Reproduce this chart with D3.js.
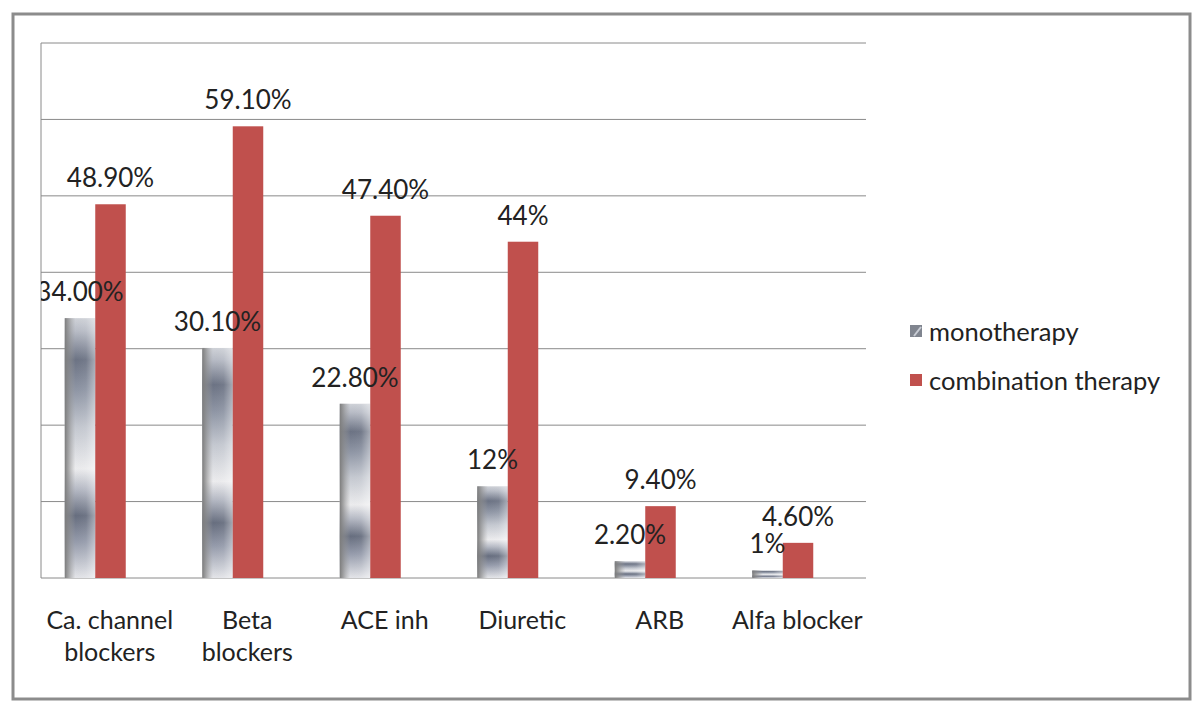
<!DOCTYPE html>
<html>
<head>
<meta charset="utf-8">
<script src="https://cdn.jsdelivr.net/npm/d3@7"></script>
<style>
  body { margin: 0; background: #fff; }
  text { font-family: Lato, "Open Sans", sans-serif; fill: #222; }
</style>
</head>
<body>
<script>
// Width and height
var w = 1200;
var h = 713;

// data
const categories = ["Ca. channel blockers", "Beta blockers", "ACE inh", "Diuretic", "ARB", "Alfa blocker"];
const categoryLines = [["Ca. channel", "blockers"], ["Beta", "blockers"], ["ACE inh"], ["Diuretic"], ["ARB"], ["Alfa blocker"]];
const seriesNames = ["monotherapy", "combination therapy"];
const monotherapy = [34.0, 30.1, 22.8, 12, 2.2, 1];
const combination = [48.9, 59.1, 47.4, 44, 9.4, 4.6];
const monoLabels = ["34.00%", "30.10%", "22.80%", "12%", "2.20%", "1%"];
const comboLabels = ["48.90%", "59.10%", "47.40%", "44%", "9.40%", "4.60%"];
const yTicks = [0, 10, 20, 30, 40, 50, 60, 70];

const plot = { left: 41, right: 866, top: 43, bottom: 578 };

const svg = d3.select("body")
  .append("svg")
    .attr("width", w)
    .attr("height", h);

const defs = svg.append("defs");

// metallic look for monotherapy bars
const vGrad = defs.append("linearGradient")
  .attr("id", "monoV")
  .attr("x1", 0).attr("y1", 0).attr("x2", 0).attr("y2", 1);
[[0, "#cfd2d8"], [0.05, "#b8bcc6"], [0.16, "#6c7384"], [0.28, "#9097a6"], [0.42, "#c4c8d0"], [0.58, "#ececee"],
 [0.66, "#b5b9c4"], [0.76, "#676e7f"], [0.86, "#959bab"], [1, "#e4e5e9"]]
  .forEach(s => vGrad.append("stop").attr("offset", s[0]).attr("stop-color", s[1]));

const hGrad = defs.append("linearGradient")
  .attr("id", "monoH")
  .attr("x1", 0).attr("y1", 0).attr("x2", 1).attr("y2", 0);
[[0, "#7c7c7c", 1], [0.12, "#8a8a8a", 0.7], [0.35, "#a0a0a0", 0], [0.7, "#ffffff", 0.05], [1, "#ffffff", 0.4]]
  .forEach(s => hGrad.append("stop").attr("offset", s[0]).attr("stop-color", s[1]).attr("stop-opacity", s[2]));

defs.append("clipPath").attr("id", "plotClip")
  .append("rect")
    .attr("x", plot.left).attr("y", 0)
    .attr("width", plot.right - plot.left + 40).attr("height", plot.bottom);

// outer frame
svg.append("rect")
  .attr("x", 13).attr("y", 14)
  .attr("width", 1177).attr("height", 685)
  .attr("fill", "none")
  .attr("stroke", "#8c8c8c")
  .attr("stroke-width", 3);

// scales
const xScale = d3.scaleBand()
  .domain(categories)
  .range([plot.left, plot.right]);

const yScale = d3.scaleLinear()
  .domain([0, 70])
  .range([plot.bottom, plot.top]);

const xSub = d3.scaleBand()
  .domain(seriesNames)
  .range([0, 61]);

// gridlines
svg.append("g")
  .selectAll("line")
  .data(yTicks)
  .enter()
  .append("line")
    .attr("x1", plot.left)
    .attr("x2", plot.right)
    .attr("y1", d => yScale(d))
    .attr("y2", d => yScale(d))
    .attr("stroke", "#8a8a8a")
    .attr("stroke-width", 1);

// left axis line
svg.append("line")
  .attr("x1", plot.left).attr("x2", plot.left)
  .attr("y1", plot.top).attr("y2", plot.bottom)
  .attr("stroke", "#8a8a8a");

const groupX = c => xScale(c) + xScale.bandwidth() / 2 - 45;

// monotherapy bars (two layers for the metallic fill)
["url(#monoV)", "url(#monoH)"].forEach(fill => {
  svg.append("g")
    .selectAll("rect")
    .data(categories)
    .enter()
    .append("rect")
      .attr("x", c => groupX(c) + xSub("monotherapy"))
      .attr("y", (c, i) => yScale(monotherapy[i]))
      .attr("width", xSub.bandwidth())
      .attr("height", (c, i) => plot.bottom - yScale(monotherapy[i]))
      .attr("fill", fill);
});

// combination bars
svg.append("g")
  .selectAll("rect")
  .data(categories)
  .enter()
  .append("rect")
    .attr("x", c => groupX(c) + xSub("combination therapy"))
    .attr("y", (c, i) => yScale(combination[i]))
    .attr("width", xSub.bandwidth())
    .attr("height", (c, i) => plot.bottom - yScale(combination[i]))
    .attr("fill", "#c0504d");

// data labels
const labelG = svg.append("g").attr("clip-path", "url(#plotClip)");
labelG.selectAll("text.mono")
  .data(categories)
  .enter()
  .append("text")
    .attr("x", c => groupX(c) + xSub("monotherapy") + xSub.bandwidth() / 2)
    .attr("y", (c, i) => yScale(monotherapy[i]) - 17)
    .attr("text-anchor", "middle")
    .attr("font-size", 26)
    .text((c, i) => monoLabels[i]);

labelG.selectAll("text.combo")
  .data(categories)
  .enter()
  .append("text")
    .attr("x", c => groupX(c) + xSub("combination therapy") + xSub.bandwidth() / 2)
    .attr("y", (c, i) => yScale(combination[i]) - 17)
    .attr("text-anchor", "middle")
    .attr("font-size", 26)
    .text((c, i) => comboLabels[i]);

// category labels
const catText = svg.append("g")
  .selectAll("text")
  .data(categories)
  .enter()
  .append("text")
    .attr("x", c => xScale(c) + xScale.bandwidth() / 2)
    .attr("y", 629)
    .attr("text-anchor", "middle")
    .attr("font-size", 25);

catText.each(function(c, i) {
  d3.select(this).selectAll("tspan")
    .data(categoryLines[i])
    .enter()
    .append("tspan")
      .attr("x", xScale(c) + xScale.bandwidth() / 2)
      .attr("dy", (d, j) => j === 0 ? 0 : 32)
      .text(d => d);
});

// legend
const legend = svg.append("g")
  .selectAll("g")
  .data(seriesNames)
  .enter()
  .append("g")
    .attr("transform", (d, i) => `translate(910, ${332 + i * 49})`);

legend.append("rect")
  .attr("x", 0).attr("y", -7)
  .attr("width", 12).attr("height", 12)
  .attr("fill", (d, i) => i === 0 ? "#80858f" : "#c0504d");
legend.filter((d, i) => i === 0)
  .append("line")
    .attr("x1", 4).attr("y1", 4).attr("x2", 11).attr("y2", -5)
    .attr("stroke", "#c8ccd4")
    .attr("stroke-width", 2);

legend.append("text")
  .attr("x", 19)
  .attr("y", 9)
  .attr("font-size", 25.5)
  .text(d => d);
</script>
</body>
</html>
